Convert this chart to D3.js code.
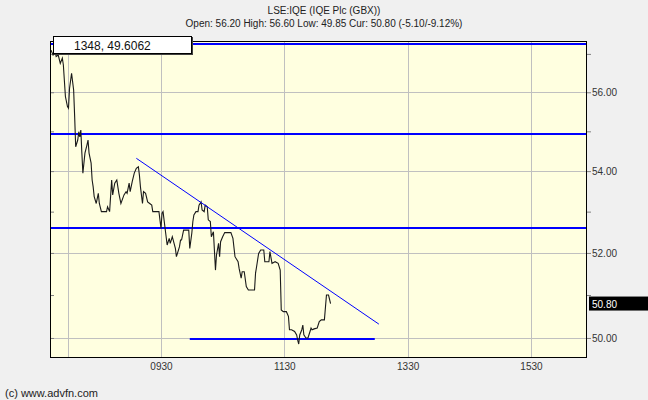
<!DOCTYPE html>
<html>
<head>
<meta charset="utf-8">
<script src="https://cdnjs.cloudflare.com/ajax/libs/d3/7.8.5/d3.min.js"></script>
<style>
  html, body { margin: 0; padding: 0; background: #f0f0f0; }
  svg { display: block; }
  text { font-family: "Liberation Sans", Arial, sans-serif; }
</style>
</head>
<body>
<svg id="chart" width="648" height="400"></svg>
<script>
// ---------- data ----------
const titleText = "LSE:IQE (IQE Plc (GBX))";
const subtitleText = "Open: 56.20 High: 56.60 Low: 49.85 Cur: 50.80 (-5.10/-9.12%)";
const cursorText = "1348, 49.6062";
const creditText = "(c) www.advfn.com";
const currentPrice = 50.80;

const times = ["07:43","07:45","07:47","07:48","07:50","07:52","07:54","07:55","07:57","07:59",
  "08:00","08:01","08:03","08:05","08:06","08:07","08:09","08:10","08:11","08:12",
  "08:13","08:14","08:16","08:18","08:19","08:20","08:22","08:23","08:24","08:25",
  "08:27","08:29","08:30","08:32","08:37","08:38","08:40","08:42","08:43","08:45",
  "08:47","08:49","08:51","08:54","08:56","08:57","08:59","09:00","09:02","09:04",
  "09:06","09:08","09:09","09:10","09:12","09:13","09:15","09:17","09:19","09:21",
  "09:22","09:28","09:30","09:31","09:32","09:34","09:36","09:38","09:39","09:41",
  "09:44","09:45","09:48","09:49","09:50","09:52","09:57","09:58","10:00","10:01",
  "10:02","10:04","10:06","10:07","10:09","10:10","10:12","10:13","10:15","10:16",
  "10:18","10:19","10:21","10:23","10:24","10:26","10:27","10:28","10:30","10:32",
  "10:38","10:40","10:42","10:45","10:46","10:48","10:49","10:51","10:53","10:55",
  "11:01","11:02","11:03","11:05","11:07","11:10","11:11","11:15","11:16","11:18",
  "11:21","11:24","11:26","11:27","11:29","11:32","11:34","11:35","11:37","11:40",
  "11:42","11:43","11:44","11:45","11:47","11:48","11:49","11:51","11:53","11:55",
  "11:56","11:57","11:59","12:02","12:04","12:06","12:09","12:11","12:13","12:15"];
const prices = [57.10,56.97,57.05,56.93,56.97,56.75,56.89,56.71,55.89,55.63,
  55.59,56.10,56.49,56.06,55.37,54.61,54.78,54.99,54.86,55.03,
  54.45,53.95,54.45,54.66,54.78,54.45,54.20,53.78,53.61,53.37,
  53.20,53.45,53.20,53.00,53.00,53.12,53.00,53.78,53.41,53.70,
  53.78,53.45,53.20,53.41,53.49,53.45,53.70,53.49,53.74,53.95,
  54.07,54.11,53.90,53.61,53.20,53.49,53.45,53.24,53.20,53.16,
  53.00,53.00,52.59,52.96,53.00,52.59,52.19,52.35,52.23,52.39,
  52.11,51.91,52.15,52.31,52.31,52.55,52.55,52.11,52.48,52.76,
  52.92,53.00,53.00,53.16,53.24,53.04,53.00,53.16,53.12,52.80,
  52.76,52.39,52.51,51.59,51.95,52.23,51.91,52.27,52.39,52.49,
  52.49,52.35,51.91,51.79,51.63,51.40,51.55,51.55,51.20,51.12,
  51.12,51.52,51.67,51.99,52.07,52.07,51.79,51.79,52.03,51.75,
  51.79,51.75,51.59,50.65,50.61,50.61,50.50,50.19,50.19,50.15,
  50.07,49.95,49.86,50.07,50.19,50.30,50.07,50.00,50.00,50.15,
  50.23,50.19,50.21,50.23,50.38,50.42,50.42,51.00,51.00,50.80];

const levelPrices = [57.26, 54.93, 52.60];          // full-width horizontal lines
const supportTimes = ["09:58", "12:58"];
const supportPrices = [49.98, 49.98];
const trendTimes = ["09:06", "13:02"];
const trendPrices = [54.32, 50.32];

const yTickValues = [50, 51, 52, 53, 54, 55, 56, 57];
const yGridValues = [50, 52, 54, 56];
const xTickTimes = ["08:00", "09:30", "11:30", "13:30", "15:30"];
const xTickLabels = ["", "0930", "1130", "1330", "1530"];
const xDomainTimes = ["07:42", "16:24.5"];
const yDomain = [49.54, 57.34];

// ---------- helpers ----------
function toMin(s) { const [h, m] = s.split(":"); return (+h) * 60 + (+m); }

// ---------- layout ----------
const svg = d3.select("#chart");
const L = 50, R = 587, T = 41, B = 358;

const x = d3.scaleLinear().domain(xDomainTimes.map(toMin)).range([L, R]);
const y = d3.scaleLog().domain(yDomain).range([B, T]);

// background
svg.append("rect").attr("width", 648).attr("height", 400).attr("fill", "#f0f0f0");
svg.append("rect").attr("x", L).attr("y", T).attr("width", R - L).attr("height", B - T)
  .attr("fill", "#ffffe0");

// grid
const grid = svg.append("g").attr("stroke", "#c0c0c0").attr("stroke-width", 1);
grid.selectAll("line.v").data(xTickTimes).join("line")
  .attr("x1", d => Math.round(x(toMin(d))) + 0.5).attr("x2", d => Math.round(x(toMin(d))) + 0.5)
  .attr("y1", T).attr("y2", B);
grid.selectAll("line.h").data(yGridValues).join("line")
  .attr("y1", d => Math.round(y(d)) + 0.5).attr("y2", d => Math.round(y(d)) + 0.5)
  .attr("x1", L).attr("x2", R);

// left inward ticks
svg.append("g").attr("transform", `translate(${L},0)`)
  .call(d3.axisRight(y).tickValues(yTickValues).tickSize(4).tickFormat(""))
  .call(g => g.select(".domain").remove())
  .call(g => g.selectAll("line").attr("stroke", "#808080"));

// right axis
const rightAxis = svg.append("g").attr("transform", `translate(${R},0)`)
  .call(d3.axisRight(y).tickValues(yTickValues).tickSize(4).tickPadding(1)
    .tickFormat(d => yGridValues.includes(d) ? d.toFixed(2) : ""))
  .call(g => g.select(".domain").remove());
rightAxis.selectAll("line").attr("stroke", "#808080");
rightAxis.selectAll("text").attr("font-size", 10).attr("fill", "#333")
  .attr("font-family", "Liberation Sans, Arial, sans-serif");

// bottom labels
const bottomAxis = svg.append("g").attr("transform", `translate(0,${B})`)
  .call(d3.axisBottom(x).tickValues(xTickTimes.map(toMin)).tickSize(0).tickPadding(5)
    .tickFormat((d, i) => xTickLabels[i]))
  .call(g => g.select(".domain").remove());
bottomAxis.selectAll("text").attr("font-size", 10).attr("fill", "#333")
  .attr("font-family", "Liberation Sans, Arial, sans-serif");

// clip for plot content
svg.append("clipPath").attr("id", "clip").append("rect")
  .attr("x", L).attr("y", T).attr("width", R - L).attr("height", B - T);
const plot = svg.append("g").attr("clip-path", "url(#clip)");

// horizontal level lines (pixel-aligned so they stay crisp)
plot.selectAll("line.level").data(levelPrices).join("line")
  .attr("x1", L).attr("x2", R)
  .attr("y1", d => Math.round(y(d))).attr("y2", d => Math.round(y(d)))
  .attr("stroke", "#0000ff").attr("stroke-width", 2);

// support line
plot.append("line")
  .attr("x1", x(toMin(supportTimes[0]))).attr("x2", x(toMin(supportTimes[1])))
  .attr("y1", Math.round(y(supportPrices[0]))).attr("y2", Math.round(y(supportPrices[1])))
  .attr("stroke", "#0000ff").attr("stroke-width", 2);

// price line
const series = times.map((t, i) => ({ t: toMin(t), p: prices[i] }));
plot.append("path").datum(series)
  .attr("d", d3.line().x(d => x(d.t)).y(d => y(d.p)))
  .attr("fill", "none").attr("stroke", "#1a1a1a").attr("stroke-width", 1.1);

// trend line
plot.append("line")
  .attr("x1", x(toMin(trendTimes[0]))).attr("x2", x(toMin(trendTimes[1])))
  .attr("y1", y(trendPrices[0])).attr("y2", y(trendPrices[1]))
  .attr("stroke", "#0000ff").attr("stroke-width", 1);

// frame
svg.append("rect").attr("x", L + 0.5).attr("y", T + 0.5).attr("width", R - L - 1).attr("height", B - T - 1)
  .attr("fill", "none").attr("stroke", "#000").attr("stroke-width", 1);

// current price marker
const cy = y(currentPrice);
svg.append("rect").attr("x", 589).attr("y", cy - 7).attr("width", 59).attr("height", 14).attr("fill", "#000");
svg.append("text").attr("x", 592).attr("y", cy + 4).attr("font-size", 10).attr("fill", "#fff")
  .text(currentPrice.toFixed(2));

// cursor info box
svg.append("rect").attr("x", 54).attr("y", 37).attr("width", 139).attr("height", 18).attr("fill", "#404040");
svg.append("rect").attr("x", 53.5).attr("y", 36.5).attr("width", 138).attr("height", 17)
  .attr("fill", "#fff").attr("stroke", "#000");
svg.append("text").attr("x", 74).attr("y", 50).attr("font-size", 12).attr("fill", "#111").text(cursorText);

// titles
svg.append("text").attr("x", 324).attr("y", 14).attr("text-anchor", "middle")
  .attr("font-size", 10).attr("fill", "#222").text(titleText);
svg.append("text").attr("x", 324).attr("y", 27).attr("text-anchor", "middle")
  .attr("font-size", 10).attr("fill", "#222").text(subtitleText);
svg.append("text").attr("x", 5).attr("y", 397).attr("font-size", 11).attr("fill", "#222").text(creditText);
</script>
</body>
</html>
